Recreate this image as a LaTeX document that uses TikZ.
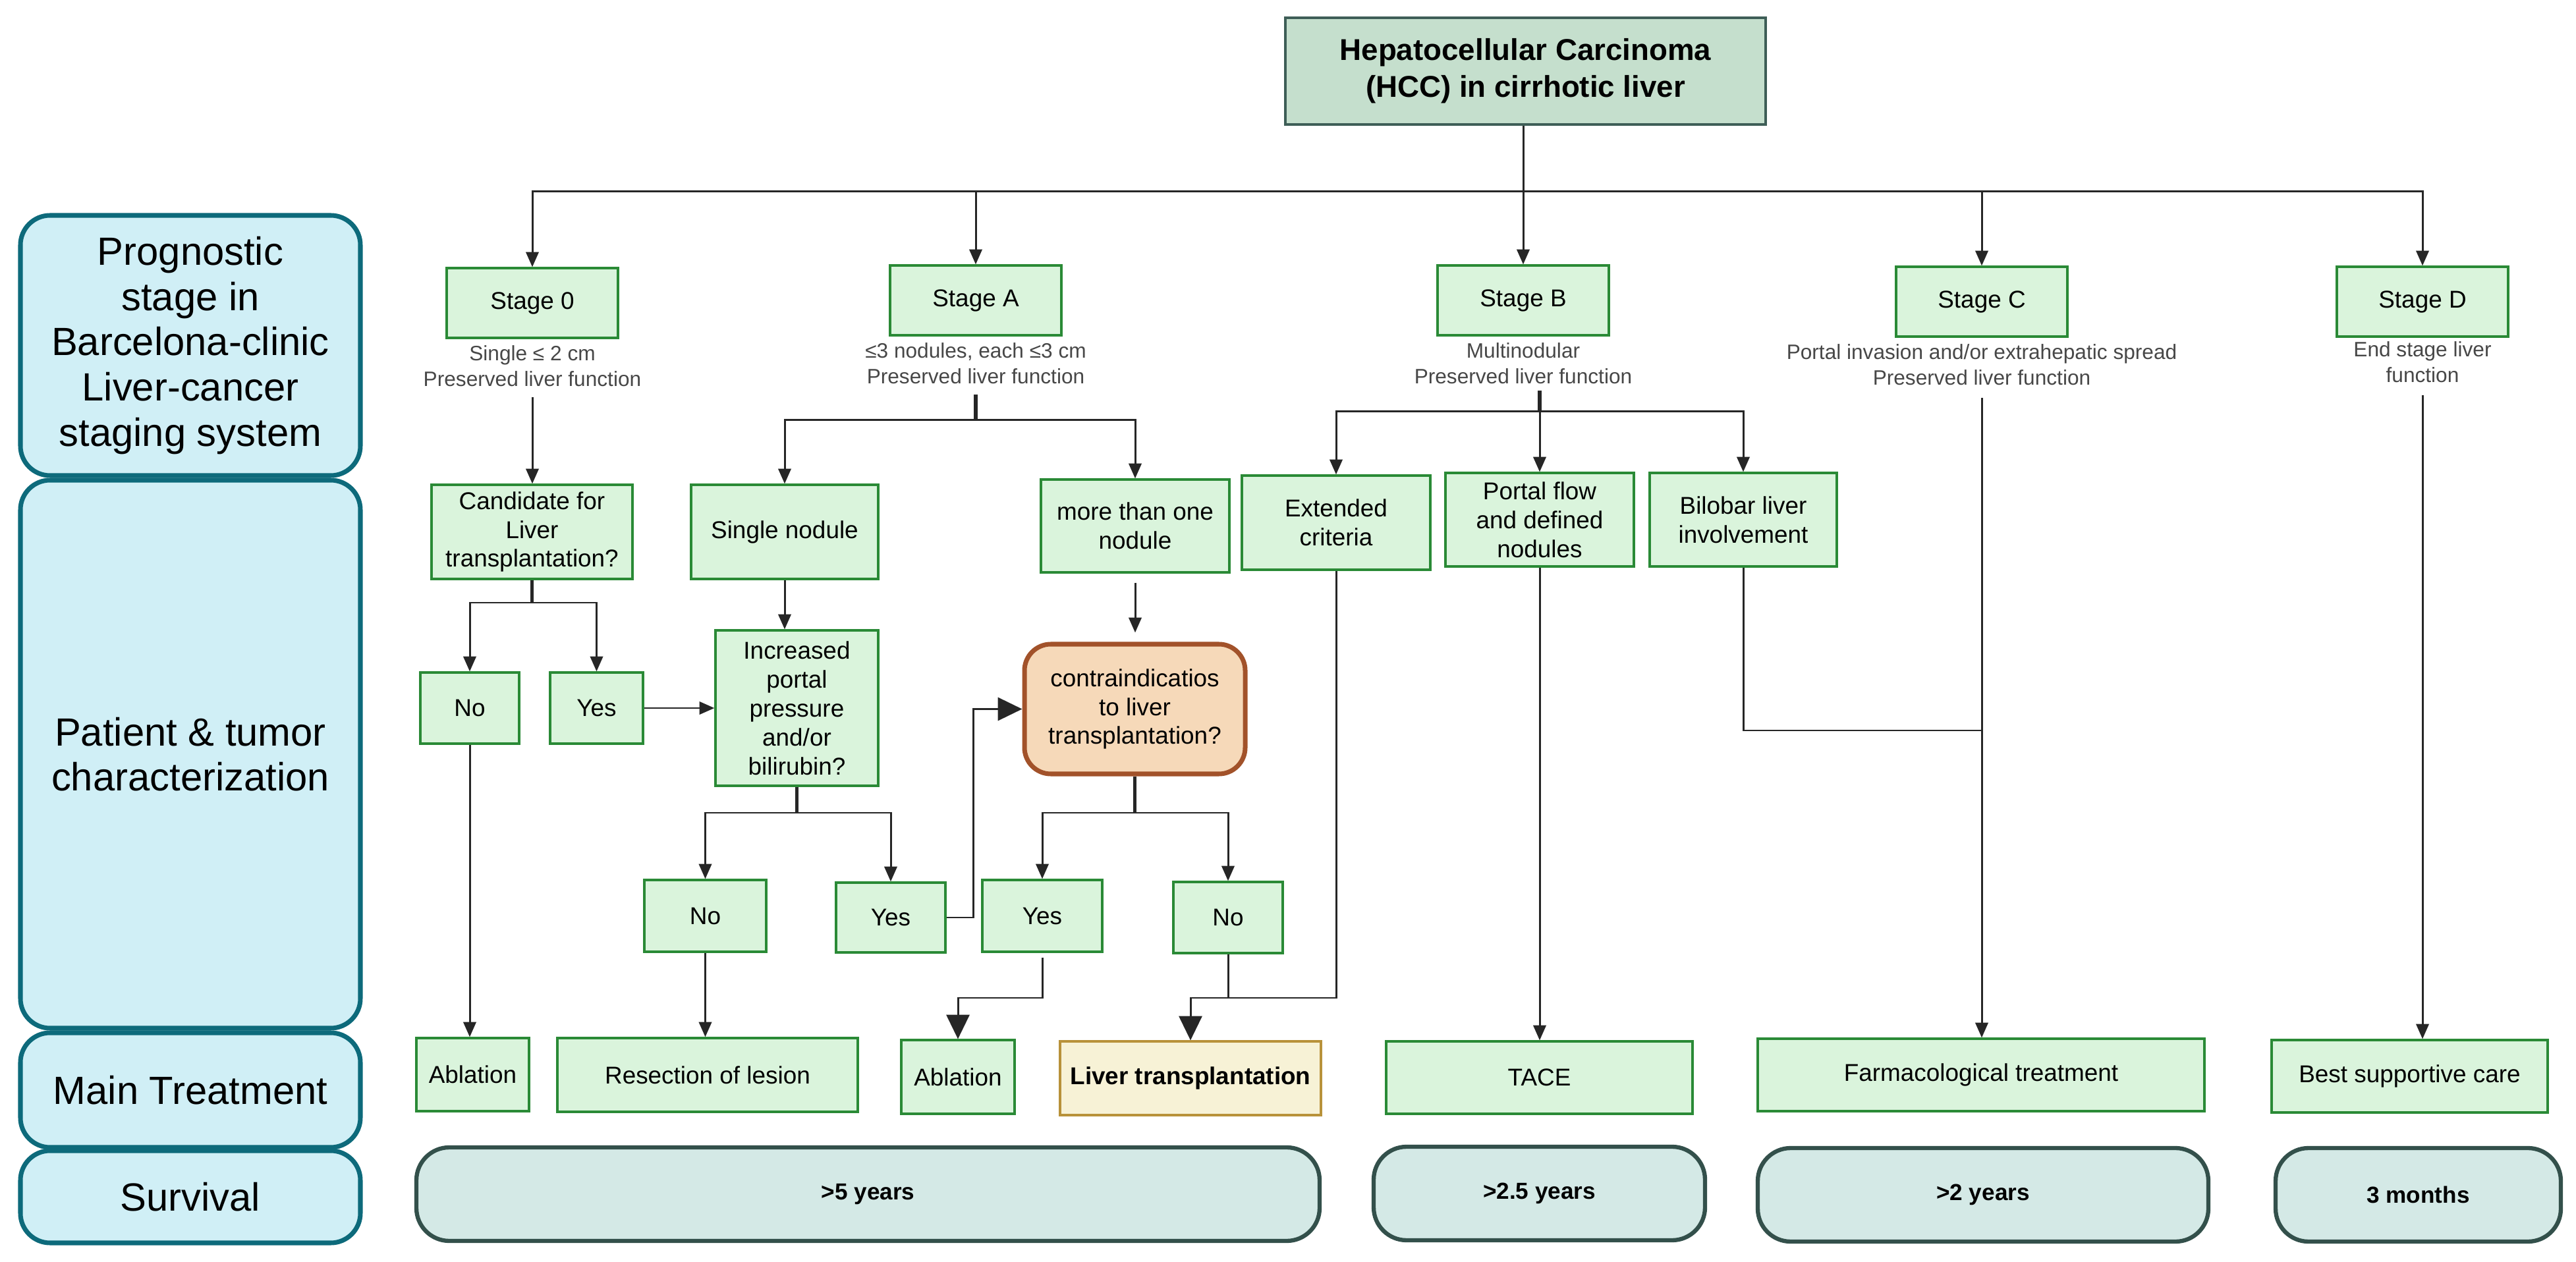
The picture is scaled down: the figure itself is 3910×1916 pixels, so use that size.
\documentclass[tikz,border=0pt]{standalone}
\usepackage{fontspec}
\setmainfont{Liberation Sans}
\usetikzlibrary{arrows.meta,positioning}

\definecolor{gfill}{HTML}{DAF4DC}
\definecolor{gline}{HTML}{2A8A36}
\definecolor{hfill}{HTML}{C5DFCD}
\definecolor{hline}{HTML}{3E5E57}
\definecolor{rfill}{HTML}{D0EFF6}
\definecolor{rline}{HTML}{0D6A7B}
\definecolor{kfill}{HTML}{F6D9B9}
\definecolor{kline}{HTML}{A2522A}
\definecolor{lfill}{HTML}{F7F2D6}
\definecolor{lline}{HTML}{B8923A}
\definecolor{vfill}{HTML}{D4E9E6}
\definecolor{vline}{HTML}{33504B}
\definecolor{ink}{HTML}{262626}

\begin{document}
\begin{tikzpicture}[x=0.1mm,y=-0.1mm,>={Triangle[length=6.5pt,width=5.5pt]}]
        \tikzstyle{gbox}=[rectangle,draw=gline,fill=gfill,line width=0.9pt,inner sep=0pt,align=center,font=\fontsize{10.5}{12.5}\selectfont]
        \tikzstyle{rowhead}=[rectangle,rounded corners=4.5mm,draw=rline,fill=rfill,line width=2pt,minimum width=51.6mm,align=center,font=\fontsize{17}{19.5}\selectfont]
        \tikzstyle{note}=[align=center,text=ink!85,inner sep=1pt,font=\fontsize{9}{11}\selectfont]
        \tikzstyle{surv}=[rectangle,rounded corners=5mm,draw=vline,fill=vfill,line width=1.8pt,minimum height=14.2mm,font=\bfseries\fontsize{10}{12}\selectfont]
        \tikzstyle{flow}=[->,draw=ink,line width=0.85pt]
        \tikzstyle{big}=[-{Triangle[length=10.5pt,width=10pt]},draw=ink,line width=0.85pt]
        \tikzstyle{stub}=[draw=ink,line width=1.6pt]

        \useasboundingbox (0,0) rectangle (3910,1916);

        % row headers
        \node [rowhead,minimum height=39.5mm] (r1) at (289,524.5) {Prognostic\\stage in\\Barcelona-clinic\\Liver-cancer\\staging system};
        \node [rowhead,minimum height=83.2mm] (r2) at (289,1145) {Patient \& tumor\\characterization};
        \node [rowhead,minimum height=17.4mm] (r3) at (289,1655) {Main Treatment};
        \node [rowhead,minimum height=14mm] (r4) at (289,1817) {Survival};

        \node [gbox,draw=hline,fill=hfill,minimum width=72.9mm,minimum height=16.2mm,font=\bfseries\fontsize{13}{16}\selectfont] (h) at (2315.5,108) {Hepatocellular Carcinoma\\(HCC) in cirrhotic liver};

        % stages
        \node [gbox,minimum width=26mm,minimum height=10.6mm] (s0) at (808,460) {Stage 0};
        \node [gbox,minimum width=26mm,minimum height=10.6mm] (s1) at (1481,456) {Stage A};
        \node [gbox,minimum width=26mm,minimum height=10.6mm] (s2) at (2312,456) {Stage B};
        \node [gbox,minimum width=26mm,minimum height=10.6mm] (s3) at (3008,458) {Stage C};
        \node [gbox,minimum width=26mm,minimum height=10.6mm] (s4) at (3677,458) {Stage D};
        \node [note,below=0.6mm of s0] (s0t) {Single ≤ 2 cm\\Preserved liver function};
        \node [note,below=0.6mm of s1] (s1t) {≤3 nodules, each ≤3 cm\\Preserved liver function};
        \node [note,below=0.6mm of s2] (s2t) {Multinodular\\Preserved liver function};
        \node [note,below=0.6mm of s3] (s3t) {Portal invasion and/or extrahepatic spread\\Preserved liver function};
        \node [note,below=0.2mm of s4] (s4t) {End stage liver\\function};

        \coordinate (hb) at (2312,291);
        \draw [stub,line width=0.85pt] (s2.north |- h.south) -- (hb);
        \draw [flow] (hb) -| (s0.north);
        \draw [flow] (hb) -| (s1.north);
        \draw [flow] (hb) -- (s2.north);
        \draw [flow] (hb) -| (s3.north);
        \draw [flow] (hb) -| (s4.north);

        % second level
        \node [gbox,minimum width=30.5mm,minimum height=14.3mm] (c0) at (807.5,807.5) {Candidate for\\Liver\\transplantation?};
        \node [gbox,minimum width=28.4mm,minimum height=14.3mm] (a1) at (1191,807.5) {Single nodule};
        \node [gbox,minimum width=28.6mm,minimum height=14.1mm] (a2) at (1723,798.5) {more than one\\nodule};
        \node [gbox,minimum width=28.6mm,minimum height=14.3mm] (b1) at (2028,793.5) {Extended\\criteria};
        \node [gbox,minimum width=28.6mm,minimum height=14.2mm] (b2) at (2337,789) {Portal flow\\and defined\\nodules};
        \node [gbox,minimum width=28.4mm,minimum height=14.2mm] (b3) at (2646,789) {Bilobar liver\\involvement};

        \draw [flow,shorten <=1.2mm] (s0t.south) -- (s0t.south |- c0.north);
        \coordinate (j1) at (1476,638);
        \draw [stub,shorten <=1.2mm] (s1t.south) -- (s1t.south |- j1);
        \draw [flow] (s1t.south |- j1) -| (a1.north);
        \draw [flow] (s1t.south |- j1) -| (a2.north);
        \coordinate (j2) at (2337,625);
        \draw [stub,shorten <=0.6mm] (b2.north |- s2t.south) -- (j2);
        \draw [flow] (j2) -| (b1.north);
        \draw [flow] (j2) -- (b2.north);
        \draw [flow] (j2) -| (b3.north);

        % stage 0 / A decisions
        \node [gbox,minimum width=15mm,minimum height=10.8mm] (n0) at (713,1075) {No};
        \node [gbox,minimum width=14.1mm,minimum height=10.8mm] (y0) at (905.5,1075) {Yes};
        \node [gbox,minimum width=24.7mm,minimum height=23.6mm] (i1) at (1209.5,1075) {Increased\\portal\\pressure\\and/or\\bilirubin?};
        \node [gbox,minimum width=18.5mm,minimum height=10.9mm] (n1) at (1070.5,1390.5) {No};
        \node [gbox,minimum width=16.6mm,minimum height=10.6mm] (y1) at (1352,1393) {Yes};
        \node [gbox,draw=kline,fill=kfill,rounded corners=4mm,line width=2pt,minimum width=33.5mm,minimum height=19.7mm] (k1) at (1722.5,1076.5) {contraindicatios\\to liver\\transplantation?};
        \node [gbox,minimum width=18.2mm,minimum height=10.9mm] (y2) at (1582,1390.5) {Yes};
        \node [gbox,minimum width=16.6mm,minimum height=10.8mm] (n2) at (1864,1393) {No};

        \coordinate (j3) at (802,915);
        \draw [stub] (c0.south) -- (c0.south |- j3);
        \draw [flow] (c0.south |- j3) -| (n0.north);
        \draw [flow] (c0.south |- j3) -| (y0.north);
        \draw [flow] (y0.east) -- (y0.east -| i1.west);
        \draw [flow] (a1.south) -- (a1.south |- i1.north);
        \coordinate (j4) at (1212,1234);
        \draw [stub] (i1.south) -- (i1.south |- j4);
        \draw [flow] (i1.south |- j4) -| (n1.north);
        \draw [flow] (i1.south |- j4) -| (y1.north);
        \draw [big] (y1.east) -- ++(41,0) |- (k1.west);
        \draw [flow,shorten <=1.4mm,shorten >=1.4mm] (a2.south) -- (a2.south |- k1.north);
        \coordinate (j5) at (1735,1234);
        \draw [stub] (k1.south) -- (k1.south |- j5);
        \draw [flow] (k1.south |- j5) -| (y2.north);
        \draw [flow] (k1.south |- j5) -| (n2.north);

        % treatments
        \node [gbox,minimum width=17.1mm,minimum height=11.1mm] (t1) at (717.5,1631.5) {Ablation};
        \node [gbox,minimum width=45.6mm,minimum height=11.2mm] (t2) at (1074,1632) {Resection of lesion};
        \node [gbox,minimum width=17.2mm,minimum height=11.2mm] (t3) at (1454,1635) {Ablation};
        \node [gbox,draw=lline,fill=lfill,minimum width=39.6mm,minimum height=11.2mm,font=\bfseries\fontsize{10.5}{12.5}\selectfont] (t4) at (1807,1637) {Liver transplantation};
        \node [gbox,minimum width=46.5mm,minimum height=11mm] (t5) at (2336.5,1636) {TACE};
        \node [gbox,minimum width=67.8mm,minimum height=11mm] (t6) at (3007,1632) {Farmacological treatment};
        \node [gbox,minimum width=41.9mm,minimum height=11mm] (t7) at (3657.5,1634) {Best supportive care};

        \draw [flow] (n0.south) -- (n0.south |- t1.north);
        \draw [flow] (n1.south) -- (n1.south |- t2.north);
        \coordinate (j6) at (1582,1515);
        \draw [big,shorten <=0.7mm] (y2.south) -- (j6) -| (t3.north);
        \coordinate (j7) at (1864,1515);
        \draw [big] (n2.south) -- (j7) -| (t4.north);
        \draw [flow,-] (b1.south) |- (j7);
        \draw [flow] (b2.south) -- (b2.south |- t5.north);
        \coordinate (j8) at (3008,1109);
        \draw [flow,-] (b3.south) |- (j8);
        \draw [flow,shorten <=1.5mm] (s3t.south) -- (s3t.south |- t6.north);
        \draw [flow,shorten <=1.5mm] (s4t.south) -- (s4t.south |- t7.north);

        % survival
        \node [surv,minimum width=137.1mm] (v1) at (1317.5,1813) {>5 years};
        \node [surv,minimum width=50.3mm] (v2) at (2336.5,1812) {>2.5 years};
        \node [surv,minimum width=68.4mm] (v3) at (3010,1814) {>2 years};
        \node [surv,minimum width=43.3mm] (v4) at (3670.5,1814) {3 months};
\end{tikzpicture}
\end{document}
